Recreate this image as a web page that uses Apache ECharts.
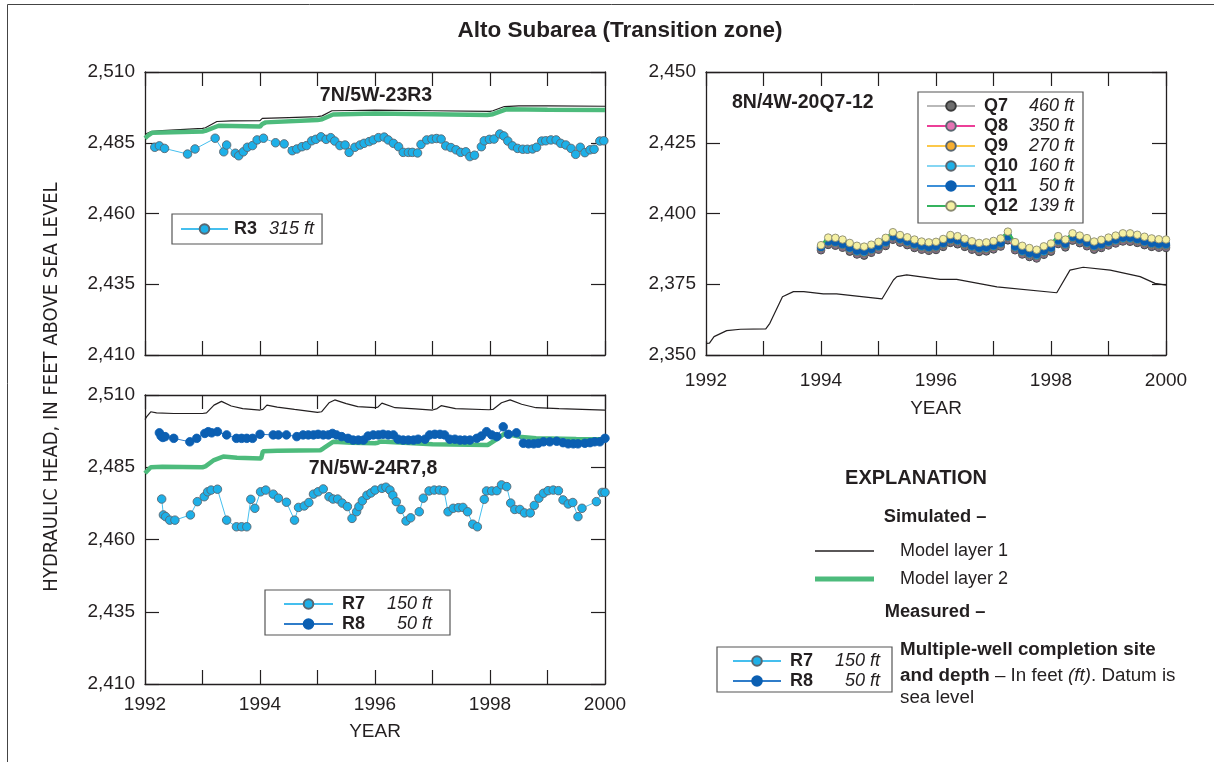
<!DOCTYPE html>
<html><head><meta charset="utf-8">
<script src="https://cdn.jsdelivr.net/npm/echarts@6/dist/echarts.min.js"></script>
<style>html,body{margin:0;padding:0;background:#fff}#c{width:1214px;height:762px}</style>
</head><body><div id="c"></div>
<script>
const FONT = '"Liberation Sans", Arial, sans-serif';
const NARROW = '"Liberation Sans Narrow", "DejaVu Sans Condensed", sans-serif';
const INK = '#231f20';

// ---- axis ticks ----
const yearTicks = [1992, 1993, 1994, 1995, 1996, 1997, 1998, 1999, 2000];
const leftHeadTicks = [2410, 2435, 2460, 2485, 2510];
const rightHeadTicks = [2350, 2375, 2400, 2425, 2450];

// ---- well depths ----
const wellNames = ['R3', 'R7', 'R8', 'Q7', 'Q8', 'Q9', 'Q10', 'Q11', 'Q12'];
const wellDepths = ['315 ft', '150 ft', '50 ft', '460 ft', '350 ft', '270 ft', '160 ft', '50 ft', '139 ft'];

// ---- 7N/5W-23R3 ----
const r3Years = [1992.17,1992.25,1992.34,1992.74,1992.87,1993.22,1993.37,1993.42,1993.57,1993.63,1993.71,1993.78,1993.87,1993.95,1994.06,1994.27,1994.42,1994.56,1994.64,1994.73,1994.81,1994.90,1994.97,1995.06,1995.15,1995.23,1995.30,1995.39,1995.48,1995.55,1995.65,1995.74,1995.81,1995.90,1995.97,1996.06,1996.16,1996.23,1996.32,1996.41,1996.49,1996.58,1996.65,1996.74,1996.80,1996.90,1996.99,1997.07,1997.15,1997.23,1997.32,1997.41,1997.49,1997.58,1997.65,1997.73,1997.85,1997.90,1997.99,1998.07,1998.17,1998.24,1998.31,1998.39,1998.48,1998.57,1998.65,1998.74,1998.81,1998.90,1998.97,1999.06,1999.15,1999.23,1999.32,1999.41,1999.49,1999.57,1999.65,1999.74,1999.81,1999.91,1999.98];
const r3Values = [2483.4,2483.9,2483.0,2481.0,2482.8,2486.6,2481.8,2484.2,2481.3,2480.4,2481.8,2483.4,2484.0,2486.0,2486.6,2485.0,2484.6,2482.2,2482.8,2483.6,2484.0,2485.7,2486.2,2487.1,2486.2,2486.8,2485.6,2484.0,2484.2,2481.6,2483.4,2484.2,2484.8,2485.4,2486.0,2486.8,2487.0,2486.0,2484.8,2483.6,2481.6,2481.6,2481.6,2481.4,2484.4,2486.0,2486.3,2486.5,2486.3,2483.9,2483.3,2482.5,2481.6,2481.8,2480.1,2480.6,2483.6,2485.7,2486.2,2486.3,2488.1,2487.4,2485.6,2483.9,2483.0,2482.7,2482.7,2482.8,2483.4,2485.6,2485.7,2486.0,2486.0,2484.8,2484.2,2483.0,2480.9,2483.4,2481.5,2482.5,2482.7,2485.6,2485.7];
const r3L1Years = [1992.0,1992.1,1992.3,1993.0,1993.05,1993.25,1993.5,1994.0,1994.04,1994.5,1995.0,1995.08,1995.25,1995.6,1996.0,1997.0,1998.0,1998.05,1998.25,1998.5,1999.0,2000.0];
const r3L1Values = [2488.0,2488.9,2489.3,2490.1,2490.3,2492.5,2492.7,2492.8,2493.6,2493.9,2494.2,2494.5,2496.3,2496.4,2496.5,2496.3,2496.1,2496.3,2497.8,2498.0,2498.0,2497.9];
const r3L2Years = [1992.0,1992.05,1992.12,1993.0,1993.05,1993.28,1994.0,1994.04,1994.1,1995.0,1995.08,1995.27,1996.0,1997.0,1997.95,1998.05,1998.28,1999.0,2000.0];
const r3L2Values = [2486.6,2487.5,2488.5,2489.0,2489.2,2491.0,2490.7,2491.6,2492.2,2493.0,2493.3,2495.0,2495.3,2495.1,2494.8,2495.1,2496.8,2496.7,2496.6];

// ---- 7N/5W-24R7,8 ----
const r7Years = [1992.29,1992.32,1992.36,1992.43,1992.52,1992.79,1992.91,1993.03,1993.09,1993.15,1993.26,1993.42,1993.59,1993.68,1993.77,1993.84,1993.91,1994.01,1994.10,1994.23,1994.32,1994.46,1994.60,1994.67,1994.77,1994.85,1994.93,1995.01,1995.10,1995.20,1995.27,1995.35,1995.43,1995.52,1995.60,1995.68,1995.72,1995.78,1995.86,1995.93,1996.00,1996.12,1996.19,1996.26,1996.31,1996.37,1996.45,1996.54,1996.62,1996.77,1996.84,1996.94,1997.03,1997.12,1997.20,1997.27,1997.36,1997.45,1997.53,1997.61,1997.70,1997.78,1997.90,1997.94,1998.03,1998.12,1998.20,1998.29,1998.36,1998.43,1998.52,1998.60,1998.70,1998.77,1998.85,1998.93,1999.01,1999.10,1999.19,1999.27,1999.36,1999.44,1999.53,1999.60,1999.85,1999.95,2000.0];
const r7Values = [2474.0,2468.5,2467.9,2466.7,2466.7,2468.5,2473.1,2474.8,2476.5,2477.1,2477.4,2466.7,2464.4,2464.4,2464.4,2473.9,2470.8,2476.5,2477.1,2475.7,2474.3,2472.9,2466.7,2471.1,2471.6,2472.8,2475.7,2476.5,2477.5,2474.8,2474.0,2474.0,2472.6,2471.4,2467.3,2469.6,2471.4,2473.4,2475.3,2476.1,2477.1,2477.7,2478.1,2477.1,2475.3,2473.1,2470.4,2466.4,2467.5,2469.6,2474.3,2476.8,2477.1,2477.1,2476.9,2469.6,2470.8,2471.0,2471.1,2469.6,2465.3,2464.4,2473.9,2476.8,2476.8,2476.9,2478.9,2478.3,2472.6,2470.4,2470.4,2469.2,2469.2,2471.8,2474.3,2476.0,2476.9,2477.1,2476.9,2473.7,2472.3,2472.8,2467.9,2470.8,2473.1,2476.3,2476.3];
const r8Years = [1992.25,1992.28,1992.31,1992.35,1992.50,1992.78,1992.90,1993.04,1993.10,1993.16,1993.26,1993.42,1993.59,1993.68,1993.77,1993.87,1994.00,1994.23,1994.32,1994.46,1994.64,1994.75,1994.84,1994.93,1995.01,1995.10,1995.19,1995.26,1995.33,1995.42,1995.53,1995.62,1995.71,1995.80,1995.88,1995.97,1996.06,1996.14,1996.23,1996.32,1996.40,1996.49,1996.58,1996.67,1996.75,1996.87,1996.95,1997.04,1997.13,1997.21,1997.30,1997.39,1997.48,1997.56,1997.65,1997.77,1997.85,1997.94,1998.03,1998.12,1998.23,1998.32,1998.46,1998.58,1998.67,1998.76,1998.84,1998.93,1999.04,1999.16,1999.27,1999.36,1999.45,1999.53,1999.65,1999.74,1999.82,1999.91,2000.0];
const r8Values = [2496.9,2495.8,2495.3,2495.6,2495.0,2493.8,2495.0,2496.7,2497.3,2496.9,2497.3,2496.2,2495.0,2495.0,2495.0,2495.0,2496.4,2496.2,2496.2,2496.2,2495.6,2496.2,2496.2,2496.2,2496.4,2496.2,2496.2,2496.7,2496.2,2495.6,2495.0,2494.4,2494.4,2494.4,2495.8,2496.2,2496.2,2496.4,2496.2,2496.2,2494.7,2494.4,2494.4,2494.4,2494.7,2494.7,2496.2,2496.4,2496.4,2496.2,2494.7,2494.7,2494.4,2494.4,2494.4,2495.0,2495.8,2497.3,2496.2,2495.6,2499.0,2496.4,2496.9,2493.3,2493.1,2493.1,2493.3,2493.8,2493.8,2494.0,2493.5,2493.1,2493.1,2493.1,2493.3,2493.5,2493.8,2493.8,2495.0];
const r78L1Years = [1992.0,1992.03,1992.1,1992.2,1992.5,1993.0,1993.07,1993.2,1993.33,1993.5,1993.7,1994.0,1994.05,1994.12,1994.3,1994.6,1995.0,1995.07,1995.2,1995.3,1995.5,1995.7,1996.0,1996.05,1996.12,1996.35,1996.7,1997.0,1997.08,1997.15,1997.4,1997.98,1998.05,1998.2,1998.35,1998.55,1998.8,1999.2,2000.0];
const r78L1Values = [2501.5,2502.5,2504.2,2503.8,2503.6,2503.6,2503.8,2506.5,2507.8,2506.2,2505.3,2504.8,2505.0,2506.5,2505.8,2505.0,2504.0,2504.2,2507.3,2508.3,2507.0,2506.0,2505.6,2505.8,2507.2,2505.6,2505.2,2504.8,2505.3,2506.3,2505.3,2504.9,2505.0,2507.3,2508.3,2506.8,2505.6,2505.3,2504.8];
const r78L2Years = [1992.0,1992.03,1992.1,1992.3,1993.0,1993.05,1993.2,1993.36,1993.6,1994.02,1994.05,1994.3,1995.05,1995.1,1995.27,1995.6,1996.0,1996.05,1996.1,1996.5,1997.0,1997.96,1998.1,1998.26,1998.5,1998.8,1999.5,2000.0];
const r78L2Values = [2482.9,2483.5,2485.0,2485.2,2485.0,2485.3,2487.5,2488.7,2488.3,2488.0,2490.5,2490.7,2490.9,2491.5,2493.8,2493.5,2493.3,2493.5,2493.9,2493.5,2493.0,2492.7,2494.5,2496.7,2495.6,2495.0,2494.8,2494.7];

// ---- 8N/4W-20Q7-12 ----
const qL1Years = [1992.00,1992.06,1992.14,1992.36,1992.60,1993.04,1993.11,1993.33,1993.52,1993.70,1994.04,1994.27,1995.06,1995.26,1995.32,1995.49,1996.07,1996.36,1997.06,1998.10,1998.33,1998.56,1999.03,1999.55,1999.81,2000.00];
const qL1Values = [2354.1,2354.2,2356.5,2358.6,2359.1,2359.2,2361.2,2370.6,2372.4,2372.4,2371.6,2371.6,2369.8,2376.5,2377.7,2378.3,2376.7,2376.7,2374.1,2372.0,2380.0,2381.0,2380.0,2377.7,2375.3,2374.7];
const qYears = [1994,1994.125,1994.25,1994.375,1994.5,1994.625,1994.75,1994.875,1995,1995.125,1995.25,1995.375,1995.5,1995.625,1995.75,1995.875,1996,1996.125,1996.25,1996.375,1996.5,1996.625,1996.75,1996.875,1997,1997.125,1997.25,1997.375,1997.5,1997.625,1997.75,1997.875,1998,1998.125,1998.25,1998.375,1998.5,1998.625,1998.75,1998.875,1999,1999.125,1999.25,1999.375,1999.5,1999.625,1999.75,1999.875,2000];
const q7Values = [2387.0,2388.9,2388.6,2387.9,2386.5,2385.5,2385.1,2386.1,2387.2,2388.5,2390.7,2389.7,2388.8,2387.8,2387.2,2386.8,2387.1,2388.2,2389.6,2389.1,2388.2,2387.2,2386.4,2386.6,2387.3,2388.3,2390.5,2387.0,2385.5,2384.6,2384.1,2385.4,2386.5,2389.2,2388.0,2390.4,2389.5,2388.4,2387.2,2387.8,2388.7,2389.4,2390.1,2390.0,2389.6,2388.8,2388.2,2387.9,2387.8];
const q8Values = [2387.3,2389.2,2389.0,2388.2,2386.9,2385.8,2385.5,2386.4,2387.5,2388.9,2391.0,2390.0,2389.1,2388.2,2387.5,2387.1,2387.4,2388.5,2389.9,2389.5,2388.5,2387.5,2386.8,2386.9,2387.6,2388.6,2390.9,2387.3,2385.8,2384.9,2384.4,2385.7,2386.9,2389.5,2388.3,2390.7,2389.8,2388.7,2387.6,2388.1,2389.0,2389.7,2390.4,2390.4,2389.9,2389.1,2388.5,2388.2,2388.1];
const q9Values = [2387.7,2389.6,2389.4,2388.6,2387.3,2386.2,2385.9,2386.8,2387.9,2389.3,2391.4,2390.4,2389.5,2388.6,2387.9,2387.5,2387.8,2388.9,2390.3,2389.9,2388.9,2387.9,2387.2,2387.3,2388.0,2389.0,2391.3,2387.7,2386.2,2385.3,2384.8,2386.1,2387.3,2389.9,2388.7,2391.1,2390.2,2389.1,2388.0,2388.5,2389.4,2390.1,2390.8,2390.8,2390.3,2389.5,2388.9,2388.6,2388.5];
const q10Values = [2388.0,2389.9,2389.7,2388.9,2387.6,2386.5,2386.2,2387.1,2388.2,2389.6,2391.7,2390.7,2389.8,2388.9,2388.2,2387.8,2388.1,2389.2,2390.6,2390.2,2389.2,2388.2,2387.5,2387.6,2388.3,2389.3,2391.6,2388.0,2386.5,2385.6,2385.1,2386.4,2387.6,2390.2,2389.0,2391.4,2390.5,2389.4,2388.3,2388.8,2389.7,2390.4,2391.1,2391.1,2390.6,2389.8,2389.2,2388.9,2388.8];
const q11Values = [2388.2,2390.2,2390.0,2389.2,2388.0,2386.9,2386.7,2387.5,2388.6,2390.0,2392.0,2391.1,2390.2,2389.3,2388.6,2388.2,2388.5,2389.6,2391.0,2390.6,2389.6,2388.6,2387.9,2388.1,2388.7,2389.7,2392.0,2388.4,2386.9,2386.0,2385.6,2386.9,2388.0,2390.6,2389.4,2391.8,2390.9,2389.8,2388.7,2389.2,2390.1,2390.8,2391.5,2391.5,2391.0,2390.2,2389.6,2389.3,2389.2];
const q12Values = [2388.8,2391.5,2391.4,2390.8,2389.6,2388.6,2388.3,2389.0,2390.0,2391.4,2393.4,2392.4,2391.6,2390.8,2390.1,2389.8,2390.0,2391.0,2392.4,2392.0,2391.1,2390.2,2389.6,2389.8,2390.3,2391.2,2393.6,2389.9,2388.6,2387.8,2387.2,2388.4,2389.4,2392.0,2390.8,2393.0,2392.2,2391.3,2390.1,2390.7,2391.5,2392.2,2393.0,2393.0,2392.5,2391.8,2391.2,2390.9,2390.8];

// ---- helpers ----
const pairs = (xs, ys) => xs.map((x, i) => [x, ys[i]]);
const comma = v => String(v).replace(/\B(?=(\d{3})+(?!\d))/g, ',');
const depthOf = n => wellDepths[wellNames.indexOf(n)];

function xAx(g, pos, showLabel, margin, nameGap) {
  return {
    type: 'value', gridIndex: g, position: pos,
    min: yearTicks[0], max: yearTicks[yearTicks.length - 1], interval: yearTicks[1] - yearTicks[0],
    axisLine: { show: true, onZero: false, lineStyle: { color: INK, width: 1.3 } },
    axisTick: { show: true, inside: true, length: 14, lineStyle: { color: INK, width: 1.2 } },
    axisLabel: { show: showLabel, margin: margin, color: INK, fontSize: 19, fontFamily: FONT,
      showMinLabel: true, showMaxLabel: true,
      formatter: v => (v % 2 === 0 ? String(v) : '') },
    splitLine: { show: false },
    name: showLabel ? 'YEAR' : '', nameLocation: 'middle', nameGap: nameGap || 0,
    nameTextStyle: { color: INK, fontSize: 19, fontFamily: FONT }
  };
}
function yAx(g, pos, ticks, showLabel) {
  return {
    type: 'value', gridIndex: g, position: pos,
    min: ticks[0], max: ticks[ticks.length - 1], interval: ticks[1] - ticks[0],
    axisLine: { show: true, onZero: false, lineStyle: { color: INK, width: 1.3 } },
    axisTick: { show: true, inside: true, length: 14, lineStyle: { color: INK, width: 1.2 } },
    axisLabel: { show: showLabel, margin: 10, color: INK, fontSize: 19, fontFamily: FONT, formatter: comma },
    splitLine: { show: false }
  };
}
function modelSeries(layer, g, xs, ys) {
  const green = layer === 2;
  return {
    name: 'Model layer ' + layer, type: 'line', xAxisIndex: g, yAxisIndex: g,
    data: pairs(xs, ys), symbol: 'none', silent: true, z: 2,
    lineStyle: { color: green ? '#4dbb7c' : INK, width: green ? 4.5 : 1.2 },
    itemStyle: { color: green ? '#4dbb7c' : INK }
  };
}
function wellSeries(name, g, xs, ys, fill, size, border, lineColor, z, lw) {
  return {
    name: name, type: 'line', xAxisIndex: g, yAxisIndex: g,
    data: pairs(xs, ys), symbol: 'circle', symbolSize: size, showSymbol: true, silent: true, z: z || 3,
    lineStyle: { color: lineColor, width: lw || 1 },
    itemStyle: { color: fill, borderColor: border, borderWidth: 0.9 }
  };
}
const legendRich = {
  b: { fontWeight: 'bold', fontSize: 18, fontFamily: FONT, color: INK, width: 40, padding: [0, 0, 0, 4], lineHeight: 18 },
  i: { fontStyle: 'italic', fontSize: 18, fontFamily: FONT, color: INK, width: 50, align: 'right', lineHeight: 18 },
  il: { fontStyle: 'italic', fontSize: 18, fontFamily: FONT, color: INK, lineHeight: 18 },
  b3: { fontWeight: 'bold', fontSize: 18, fontFamily: FONT, color: INK, width: 35, padding: [0, 0, 0, 1], lineHeight: 18 }
};
function wellLegend(names, left, top, padding, itemWidth, gap, fmt) {
  return {
    orient: 'vertical', left: left, top: top, data: names, selectedMode: false,
    itemWidth: itemWidth, itemHeight: 12, itemGap: gap, padding: padding,
    borderColor: '#555', borderWidth: 1.2, backgroundColor: '#fff',
    textStyle: { fontSize: 18, lineHeight: 18, fontFamily: FONT, color: INK, rich: legendRich },
    formatter: fmt || (n => '{b|' + n + '}{i|' + depthOf(n) + '}')
  };
}

const LB = '#1db0e8', LBL = '#45bfee', DB = '#0b5fb2', DBL = '#2f7cc9', GB = '#5b6770';

const option = {
  animation: false,
  grid: [
    { left: 145, top: 72, width: 460, height: 283 },
    { left: 145, top: 395, width: 460, height: 289 },
    { left: 706, top: 72, width: 460, height: 283 }
  ],
  xAxis: [
    xAx(0, 'bottom', false, 10), xAx(1, 'bottom', true, 11, 38), xAx(2, 'bottom', true, 16, 44),
    xAx(0, 'top', false), xAx(1, 'top', false), xAx(2, 'top', false)
  ],
  yAxis: [
    yAx(0, 'left', leftHeadTicks, true), yAx(1, 'left', leftHeadTicks, true), yAx(2, 'left', rightHeadTicks, true),
    yAx(0, 'right', leftHeadTicks, false), yAx(1, 'right', leftHeadTicks, false), yAx(2, 'right', rightHeadTicks, false)
  ],
  legend: [
    wellLegend(['R3'], 172, 214, [6, 8, 6, 8], 47, 2, n => '{b3|' + n + '}{il|' + depthOf(n) + '}'),
    wellLegend(['R7', 'R8'], 265, 590, [5, 18, 2, 18], 49, 2),
    wellLegend(['Q7', 'Q8', 'Q9', 'Q10', 'Q11', 'Q12'], 918, 92, [5, 9, 8, 8], 48, 2),
    wellLegend(['R7', 'R8'], 717, 647, [5, 12, 2, 15], 48, 2),
    { left: 815, top: 541, data: [{ name: 'Model layer 1', itemStyle: { color: INK } }], icon: 'rect', itemWidth: 59, itemHeight: 1.5,
      selectedMode: false, padding: 0, textStyle: { fontSize: 18, lineHeight: 20, fontFamily: FONT, color: INK, padding: [0, 0, 0, 21] } },
    { left: 815, top: 569, data: [{ name: 'Model layer 2', itemStyle: { color: '#4dbb7c' } }], icon: 'rect', itemWidth: 59, itemHeight: 5,
      selectedMode: false, padding: 0, textStyle: { fontSize: 18, lineHeight: 20, fontFamily: FONT, color: INK, padding: [0, 0, 0, 21] } }
  ],
  series: [
    modelSeries(1, 0, r3L1Years, r3L1Values),
    modelSeries(2, 0, r3L2Years, r3L2Values),
    wellSeries('R3', 0, r3Years, r3Values, LB, 8.5, GB, LBL),
    modelSeries(1, 1, r78L1Years, r78L1Values),
    wellSeries('R8', 1, r8Years, r8Values, DB, 8.5, DB, DBL, 3),
    modelSeries(2, 1, r78L2Years, r78L2Values),
    wellSeries('R7', 1, r7Years, r7Values, LB, 8.5, GB, LBL, 4),
    modelSeries(1, 2, qL1Years, qL1Values),
    wellSeries('Q7', 2, qYears, q7Values, '#6e6e6e', 7.5, '#3a3a3a', '#b9b9b9', 3),
    wellSeries('Q8', 2, qYears, q8Values, '#e573b3', 7.5, GB, '#ec3f98', 4),
    wellSeries('Q9', 2, qYears, q9Values, '#f7ae2f', 7.5, GB, '#fcc84a', 5),
    wellSeries('Q10', 2, qYears, q10Values, '#1db0e8', 7.5, GB, '#86d6f3', 6),
    wellSeries('Q11', 2, qYears, q11Values, '#0b5fb2', 7.5, '#0b5fb2', '#3c8fd8', 7),
    wellSeries('Q12', 2, qYears, q12Values, '#f5f0a2', 7.5, '#8a8a70', '#35b35e', 8, 2.5)
  ],
  graphic: [
    { type: 'rect', shape: { x: 7.5, y: 4.5, width: 1400, height: 900 }, style: { fill: 'none', stroke: '#444', lineWidth: 1 }, silent: true },
    { type: 'text', x: 620, y: 31, style: { text: 'Alto Subarea (Transition zone)', fontSize: 22.5, fontWeight: 'bold', fontFamily: FONT, fill: INK, align: 'center', verticalAlign: 'middle' } },
    { type: 'text', x: 52, y: 387, rotation: Math.PI / 2, style: { text: 'HYDRAULIC HEAD, IN FEET ABOVE SEA LEVEL', fontSize: 20, fontFamily: NARROW, fill: INK, align: 'center', verticalAlign: 'middle' } },
    { type: 'text', x: 376, y: 96, style: { text: '7N/5W-23R3', fontSize: 19.5, fontWeight: 'bold', fontFamily: FONT, fill: INK, align: 'center', verticalAlign: 'middle' } },
    { type: 'text', x: 373, y: 469, style: { text: '7N/5W-24R7,8', fontSize: 19.5, fontWeight: 'bold', fontFamily: FONT, fill: INK, align: 'center', verticalAlign: 'middle' } },
    { type: 'text', x: 732, y: 103, style: { text: '8N/4W-20Q7-12', fontSize: 19.5, fontWeight: 'bold', fontFamily: FONT, fill: INK, align: 'left', verticalAlign: 'middle' } },
    { type: 'text', x: 916, y: 478, style: { text: 'EXPLANATION', fontSize: 20, fontWeight: 'bold', fontFamily: FONT, fill: INK, align: 'center', verticalAlign: 'middle' } },
    { type: 'text', x: 935, y: 517, style: { text: 'Simulated –', fontSize: 18.3, fontWeight: 'bold', fontFamily: FONT, fill: INK, align: 'center', verticalAlign: 'middle' } },
    { type: 'text', x: 935, y: 612, style: { text: 'Measured –', fontSize: 18.3, fontWeight: 'bold', fontFamily: FONT, fill: INK, align: 'center', verticalAlign: 'middle' } },
    { type: 'text', x: 900, y: 650, style: { text: 'Multiple-well completion site', fontSize: 18.8, fontWeight: 'bold', fontFamily: FONT, fill: INK, align: 'left', verticalAlign: 'middle' } },
    { type: 'text', x: 900, y: 676, style: {
        text: '{b|and depth}{r| – In feet }{i|(ft)}{r|. Datum is}', align: 'left', verticalAlign: 'middle',
        rich: {
          b: { fontSize: 18.8, fontWeight: 'bold', fontFamily: FONT, fill: INK },
          r: { fontSize: 18.8, fontFamily: FONT, fill: INK },
          i: { fontSize: 18.8, fontStyle: 'italic', fontFamily: FONT, fill: INK }
        } } },
    { type: 'text', x: 900, y: 698, style: { text: 'sea level', fontSize: 18.8, fontFamily: FONT, fill: INK, align: 'left', verticalAlign: 'middle' } }
  ]
};
const chart = echarts.init(document.getElementById('c'), null, { renderer: 'canvas' });
chart.setOption(option);
</script>
</body></html>
